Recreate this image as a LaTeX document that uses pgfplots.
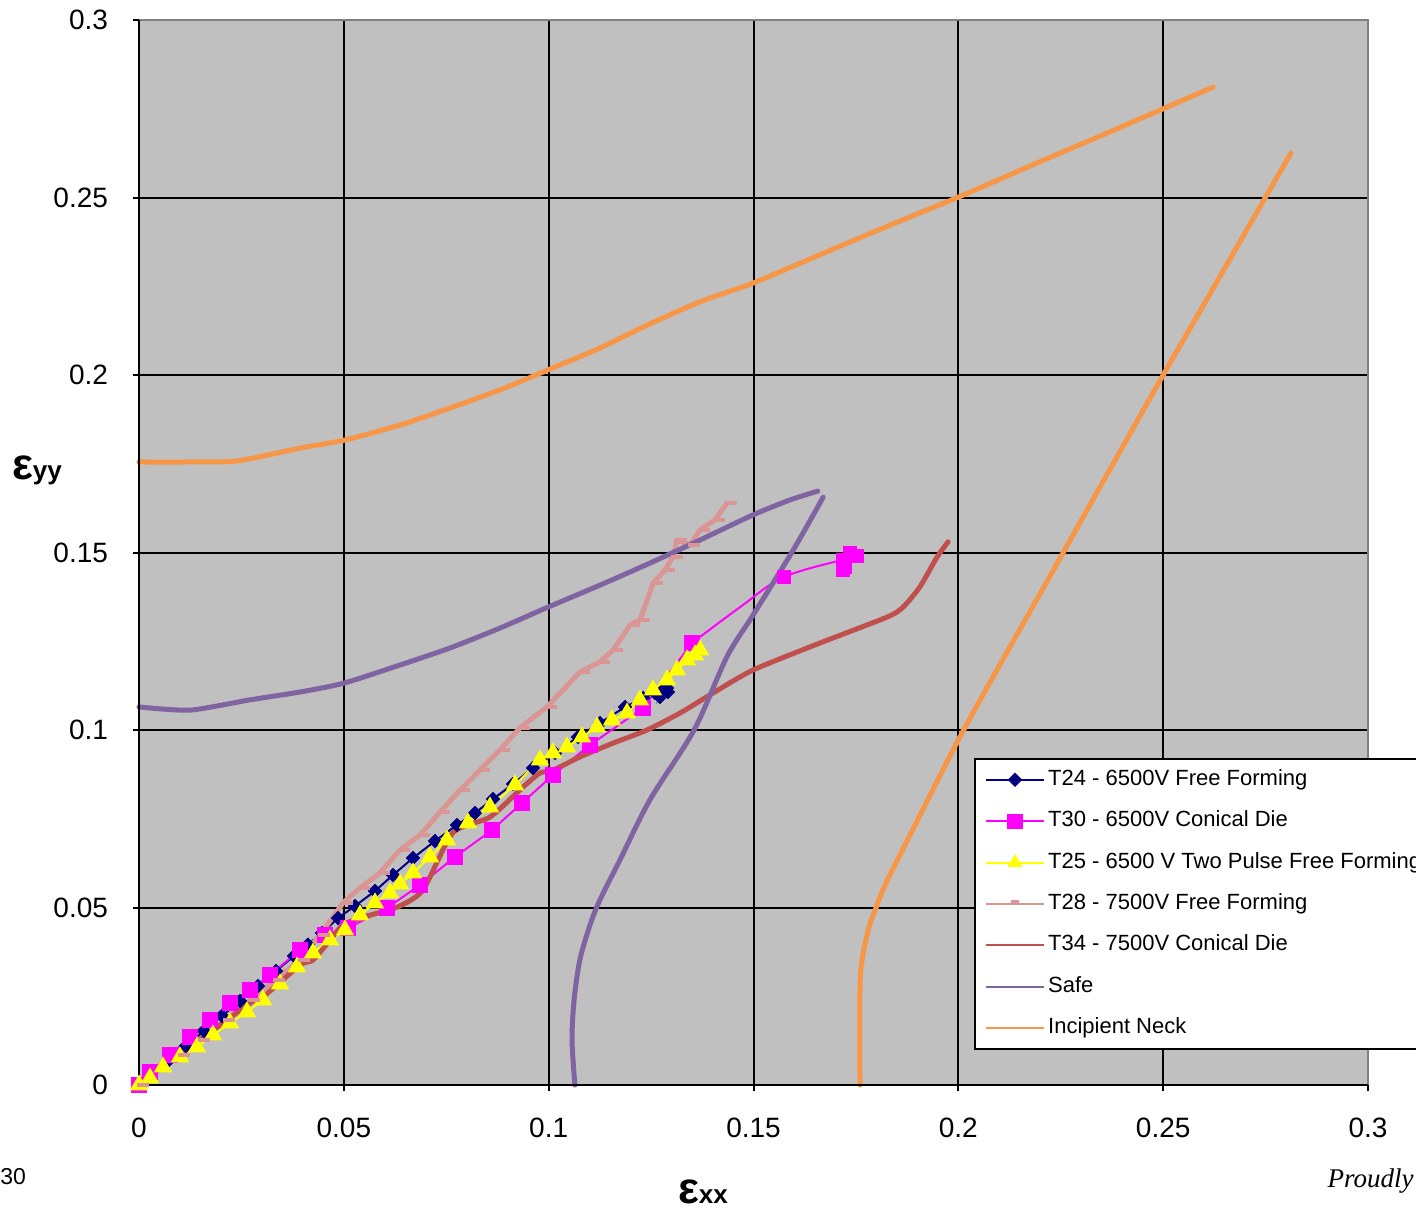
\documentclass[border=0pt]{standalone}
\usepackage{fontspec}
\setmainfont{Liberation Sans}
\newfontfamily\serifit{Liberation Serif}
\usepackage{pgfplots}
\pgfplotsset{compat=1.18}
\definecolor{bg}{HTML}{C0C0C0}
\definecolor{cOrange}{HTML}{F79646}
\definecolor{cPurple}{HTML}{8064A2}
\definecolor{cRed}{HTML}{C0504D}
\definecolor{cRose}{HTML}{D99694}
\definecolor{cNavy}{HTML}{000080}
\definecolor{cMag}{HTML}{FF00FF}
\definecolor{cYel}{HTML}{FFFF00}
\begin{document}
\begin{tikzpicture}[x=1pt,y=1pt]
\path[use as bounding box, fill=white] (0,0) rectangle (708,606);
\begin{axis}[
  at={(69.5pt,63.5pt)}, anchor=south west,
  scale only axis, width=614.5pt, height=532.5pt,
  xmin=0, xmax=0.3, ymin=0, ymax=0.3,
  xtick={0,0.05,...,0.3}, ytick={0,0.05,...,0.3},
  xticklabels={0,0.05,0.1,0.15,0.2,0.25,0.3},
  yticklabels={0,0.05,0.1,0.15,0.2,0.25,0.3},
  xtick pos=bottom, ytick pos=left,
  axis background/.style={fill=bg},
  axis line style={draw=none},
  grid=major, major grid style={black, line width=1pt},
  tick align=outside, major tick length=3pt, tick style={black, line width=1pt},
  ticklabel style={font=\fontsize{14}{16}\selectfont},
  /pgf/number format/assume math mode=true,
  xticklabel style={yshift=-10pt},
  yticklabel style={xshift=-9pt},
  clip=false,
  legend style={at={(0.6794,0.307)}, anchor=north west, draw=black, line width=1pt,
    fill=white, inner xsep=5pt, inner ysep=0pt, row sep=0pt,
    font=\fontsize{11}{13}\selectfont,
    nodes={text height=8pt, text depth=2.5pt, inner ysep=5.1pt, inner xsep=1.6pt}},
  legend cell align=left,
  legend image code/.code={\draw[#1, mark repeat=2, mark phase=2] plot coordinates {(0pt,0pt) (14.5pt,0pt) (29pt,0pt)};},
]
% T24
\addplot[forget plot, cNavy, line width=1pt, mark=square*, mark size=2.4pt, mark options={rotate=45, fill=cNavy, draw=cNavy, line width=0.3pt}] coordinates {
(0,0) (0.00269,0.00256) (0.00708,0.0068) (0.01147,0.01099) (0.01587,0.01521) (0.02026,0.01944)
(0.02465,0.02366) (0.02905,0.02789) (0.03344,0.03211) (0.03784,0.03634) (0.04125,0.03952)
(0.04467,0.04282) (0.04858,0.04704) (0.05273,0.05042) (0.05761,0.05465) (0.062,0.05915)
(0.06688,0.06394) (0.07225,0.06873) (0.07762,0.07324) (0.08202,0.07662) (0.08641,0.08056)
(0.09129,0.08479) (0.09617,0.0893) (0.10155,0.09352) (0.10716,0.09803) (0.11253,0.10197)
(0.11863,0.10648) (0.12303,0.10901) (0.12595,0.11042) (0.12791,0.11127) (0.12718,0.1093)
(0.12888,0.11183) (0.1291,0.1107)};
% T30
\addplot[forget plot, cMag, line width=1pt, mark=square*, mark size=3.3pt, mark options={fill=cMag, draw=cMag}] coordinates {
(0,0) (0.00269,0.00366) (0.00757,0.00845) (0.01245,0.01352) (0.01733,0.01831) (0.02221,0.0231)
(0.0271,0.02676) (0.03198,0.03099) (0.0393,0.03803) (0.0454,0.04225) (0.05102,0.04423)
(0.06054,0.04986) (0.06859,0.05634) (0.07713,0.06423) (0.08617,0.07183) (0.09349,0.07944)
(0.10106,0.08732) (0.11009,0.09577) (0.12303,0.1062) (0.13499,0.12451)};
\addplot[forget plot, cMag, line width=1pt, smooth, tension=0.6] coordinates {
(0.13499,0.12451) (0.1467,0.1346) (0.15745,0.1431) (0.17185,0.14789)};
\addplot[forget plot, cMag, only marks, mark=square*, mark size=3.3pt, mark options={fill=cMag, draw=cMag}] coordinates {
(0.15745,0.1431) (0.17185,0.14789) (0.17234,0.1459) (0.17356,0.1499) (0.17526,0.149) (0.17185,0.14507)};
% T25
\addplot[forget plot, cYel, line width=1pt, mark=triangle*, mark size=4.3pt, mark options={fill=cYel, draw=cYel}] coordinates {
(0,0) (0.00269,0.00197) (0.00586,0.00507) (0.01,0.00789) (0.01416,0.0107) (0.01806,0.01408)
(0.02221,0.01746) (0.02636,0.02056) (0.03027,0.02394) (0.03442,0.02845) (0.03857,0.03324)
(0.04247,0.03718) (0.04662,0.04085) (0.05028,0.04366) (0.05395,0.04789) (0.05761,0.05127)
(0.06127,0.05408) (0.06371,0.05662) (0.06688,0.05972) (0.07103,0.06423) (0.07518,0.06901)
(0.08031,0.0738) (0.08568,0.07831) (0.09178,0.08451) (0.09788,0.09155) (0.10106,0.09352)
(0.10448,0.09521) (0.10814,0.09803) (0.1118,0.10085) (0.11546,0.10282) (0.11913,0.10479)
(0.12229,0.10845) (0.12547,0.11127) (0.12888,0.11408) (0.13133,0.1169) (0.13377,0.11972)
(0.13572,0.12113) (0.13694,0.12254)};
% T28
\addplot[forget plot, cRose, line width=2.5pt, line join=round, mark=-, mark size=3pt, mark options={xshift=2pt, line width=2pt}] coordinates {
(0,0) (0.01,0.0085) (0.0149,0.0127) (0.021,0.0183) (0.0271,0.0239) (0.0332,0.0296) (0.0393,0.0352)
(0.0442,0.0423) (0.0498,0.0513) (0.0539,0.0555) (0.0588,0.0597) (0.0637,0.0662) (0.0686,0.0704)
(0.0735,0.0769) (0.0784,0.0831) (0.0832,0.0887) (0.0881,0.0944) (0.093,0.1006) (0.0996,0.1065)
(0.1076,0.1163) (0.1125,0.1192) (0.1157,0.1225) (0.1199,0.1296) (0.1223,0.131) (0.1255,0.1414)
(0.1284,0.1451) (0.1303,0.1487) (0.1313,0.1535) (0.1345,0.1521) (0.1369,0.1563) (0.1406,0.1592)
(0.1435,0.1639)};
% T34
\addplot[forget plot, cRed, line width=2.5pt, line join=round, line cap=round, smooth, tension=0.4] coordinates {
(0,0) (0.0051,0.0048) (0.0149,0.0127) (0.0271,0.0231) (0.0303,0.0248) (0.0393,0.0338)
(0.0425,0.0352) (0.0466,0.0408) (0.0498,0.0451) (0.0547,0.0473) (0.063,0.0501) (0.0693,0.0549)
(0.0766,0.071) (0.0857,0.0755) (0.0937,0.0839) (0.0979,0.0879) (0.1011,0.0887) (0.1076,0.0924)
(0.1157,0.0963) (0.124,0.1) (0.1321,0.1048) (0.1401,0.1104) (0.1499,0.1169) (0.1662,0.1245)
(0.1826,0.1318) (0.1865,0.1346) (0.1906,0.1403) (0.1948,0.1487) (0.1975,0.153)};
% Safe
\addplot[forget plot, cPurple, line width=2.5pt, line cap=round, smooth, tension=0.4] coordinates {
(0,0.1065) (0.01245,0.1056) (0.0271,0.1085) (0.0393,0.1107) (0.05,0.1132) (0.0637,0.1183)
(0.0759,0.1231) (0.0881,0.1287) (0.0998,0.1346) (0.1125,0.1408) (0.1247,0.1470) (0.1369,0.1535)
(0.1499,0.1606) (0.1589,0.1648) (0.1657,0.1673)};
\addplot[forget plot, cPurple, line width=2.5pt, line cap=round, smooth, tension=0.5] coordinates {
(0.1064,0) (0.1057,0.0127) (0.1062,0.0239) (0.1076,0.0352) (0.1101,0.0451) (0.1125,0.0521)
(0.1174,0.0634) (0.1247,0.0803) (0.1355,0.1) (0.1435,0.1206) (0.1499,0.1324) (0.1597,0.1507)
(0.1670,0.1656)};
% Incipient neck
\addplot[forget plot, cOrange, line width=2.5pt, line cap=round, smooth, tension=0.4] coordinates {
(0,0.1755) (0.012,0.1755) (0.024,0.1758) (0.0393,0.1794) (0.0503,0.1817) (0.0637,0.1859)
(0.0759,0.1907) (0.0881,0.1958) (0.0998,0.2014) (0.1125,0.2076) (0.1247,0.2144) (0.1369,0.2206)
(0.1499,0.2259) (0.1614,0.2315) (0.1736,0.2375) (0.1858,0.2434) (0.2,0.2501) (0.2102,0.2552)
(0.2224,0.2613) (0.2346,0.2673) (0.2468,0.2734) (0.2622,0.2811)};
\addplot[forget plot, cOrange, line width=2.5pt, line cap=round, smooth, tension=0.5] coordinates {
(0.176,0) (0.176,0.0268) (0.1765,0.0352) (0.178,0.0437) (0.1797,0.0493) (0.1821,0.0563)
(0.1882,0.0704) (0.2,0.0972) (0.2102,0.1185) (0.2224,0.1434) (0.2346,0.1685) (0.25,0.2)
(0.259,0.218) (0.2712,0.2425) (0.2812,0.2625)};
% legend
\addlegendimage{cNavy, line width=1pt, mark=square*, mark size=2.4pt, mark options={rotate=45, fill=cNavy, draw=cNavy, line width=0.3pt}}
\addlegendentry{T24 - 6500V Free Forming}
\addlegendimage{cMag, line width=1pt, mark=square*, mark size=3.3pt, mark options={fill=cMag, draw=cMag}}
\addlegendentry{T30 - 6500V Conical Die}
\addlegendimage{cYel, line width=1pt, mark=triangle*, mark size=3.3pt, mark options={fill=cYel, draw=cYel}}
\addlegendentry{T25 - 6500 V Two Pulse Free Forming}
\addlegendimage{cRose, line width=1pt, mark=-, mark size=2pt, mark options={yshift=1pt, line width=1.5pt}}
\addlegendentry{T28 - 7500V Free Forming}
\addlegendimage{cRed, line width=1pt}
\addlegendentry{T34 - 7500V Conical Die}
\addlegendimage{cPurple, line width=1pt}
\addlegendentry{Safe}
\addlegendimage{cOrange, line width=1pt}
\addlegendentry{Incipient Neck}
% frame
\draw[gray, line width=1pt] (axis cs:0,0.3) -- (axis cs:0.3,0.3) -- (axis cs:0.3,0);
\draw[black, line width=1pt] (axis cs:0,0.3) -- (axis cs:0,0) -- (axis cs:0.3,0);
\end{axis}
\node[anchor=west, inner sep=0pt, font=\fontsize{11.5}{13}\selectfont] at (0,17.5) {30};
\node[anchor=east, inner sep=0pt, font=\serifit\itshape\fontsize{13.5}{15}\selectfont] at (707,15.5) {Proudly};
\node[inner sep=0pt, font=\bfseries] at (18.5,371) {{\fontsize{22}{24}\selectfont ε}{\fontsize{13}{15}\selectfont yy}};
\node[inner sep=0pt, font=\bfseries] at (351.5,10) {{\fontsize{22}{24}\selectfont ε}{\fontsize{13}{15}\selectfont xx}};
\end{tikzpicture}
\end{document}
